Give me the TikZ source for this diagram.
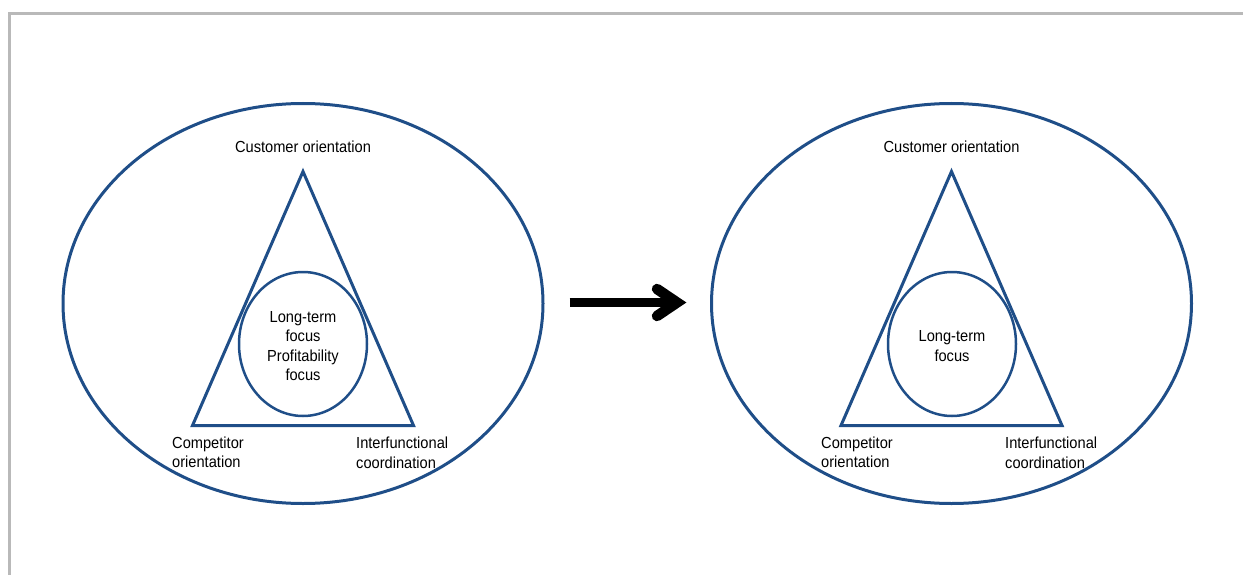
\documentclass[tikz,border=0pt]{standalone}
\usepackage{fontspec}
\setmainfont{Liberation Sans}
\usepackage{graphicx}
\usetikzlibrary{shapes.geometric,calc}
\definecolor{frameblue}{RGB}{31,78,136}
\definecolor{framegray}{RGB}{185,185,185}
% slightly narrowed text blocks, baseline on the first line
\newcommand{\lblc}[1]{\scalebox{0.915}[1]{\begin{tabular}[t]{@{}c@{}}#1\end{tabular}}}
\newcommand{\lbll}[1]{\scalebox{0.915}[1]{\begin{tabular}[t]{@{}l@{}}#1\end{tabular}}}
\begin{document}
\begin{tikzpicture}[x=1pt,y=-1pt,
  outerring/.style={ellipse,draw=frameblue,line width=3pt,minimum width=480pt,minimum height=400pt,inner sep=0pt},
  innerring/.style={ellipse,draw=frameblue,line width=2.5pt,minimum width=128pt,minimum height=144pt,inner sep=0pt},
  triline/.style={draw=frameblue,line width=3pt,line join=miter},
  lbl/.style={inner sep=0pt,font=\fontsize{16}{19.5}\selectfont,text=black}]
\useasboundingbox (0,0) rectangle (1243,575);
% page frame
\draw[framegray,line width=3pt] (9,575) -- (9,13.5) -- (1243,13.5);

% ---- left panel ----
\node[outerring] (ringL) at (303,303.5) {};
\draw[triline] (303,171.5) -- (413.5,425.5) -- (192.5,425.5) -- cycle;
\node[innerring] (coreL) at (303,344) {};
\node[lbl,anchor=base] (custL) at (303,152.3) {\lblc{Customer orientation}};
\node[lbl,anchor=base] (focusL) at (303,322.3) {\lblc{Long-term\\focus\\Profitability\\focus}};
\node[lbl,anchor=base west] (compL) at (172,448) {\lbll{Competitor\\orientation}};
\node[lbl,anchor=base west] (interL) at (356,448.5) {\lbll{Interfunctional\\coordination}};

% ---- right panel ----
\node[outerring] (ringR) at (951.5,303.5) {};
\draw[triline] (951.5,171.5) -- (1062,425.5) -- (841,425.5) -- cycle;
\node[innerring] (coreR) at (952,344) {};
\node[lbl,anchor=base] (custR) at (951.5,152.3) {\lblc{Customer orientation}};
\node[lbl,anchor=base] (focusR) at (952,341.7) {\lblc{Long-term\\focus}};
\node[lbl,anchor=base west] (compR) at (821,448) {\lbll{Competitor\\orientation}};
\node[lbl,anchor=base west] (interR) at (1005,448.5) {\lbll{Interfunctional\\coordination}};

% ---- transition arrow ----
\coordinate (arrowstart) at ($(ringL.east)+(25,-1)$);
\coordinate (arrowtip) at ($(ringR.west)+(-33,-1)$);
\draw[black,line width=9pt] (arrowstart) -- (arrowtip);
\draw[black,line width=10.5pt,line cap=round,line join=miter]
  ($(arrowtip)+(-20,-13.5)$) -- (arrowtip) -- ($(arrowtip)+(-20,13.5)$);
\end{tikzpicture}
\end{document}
